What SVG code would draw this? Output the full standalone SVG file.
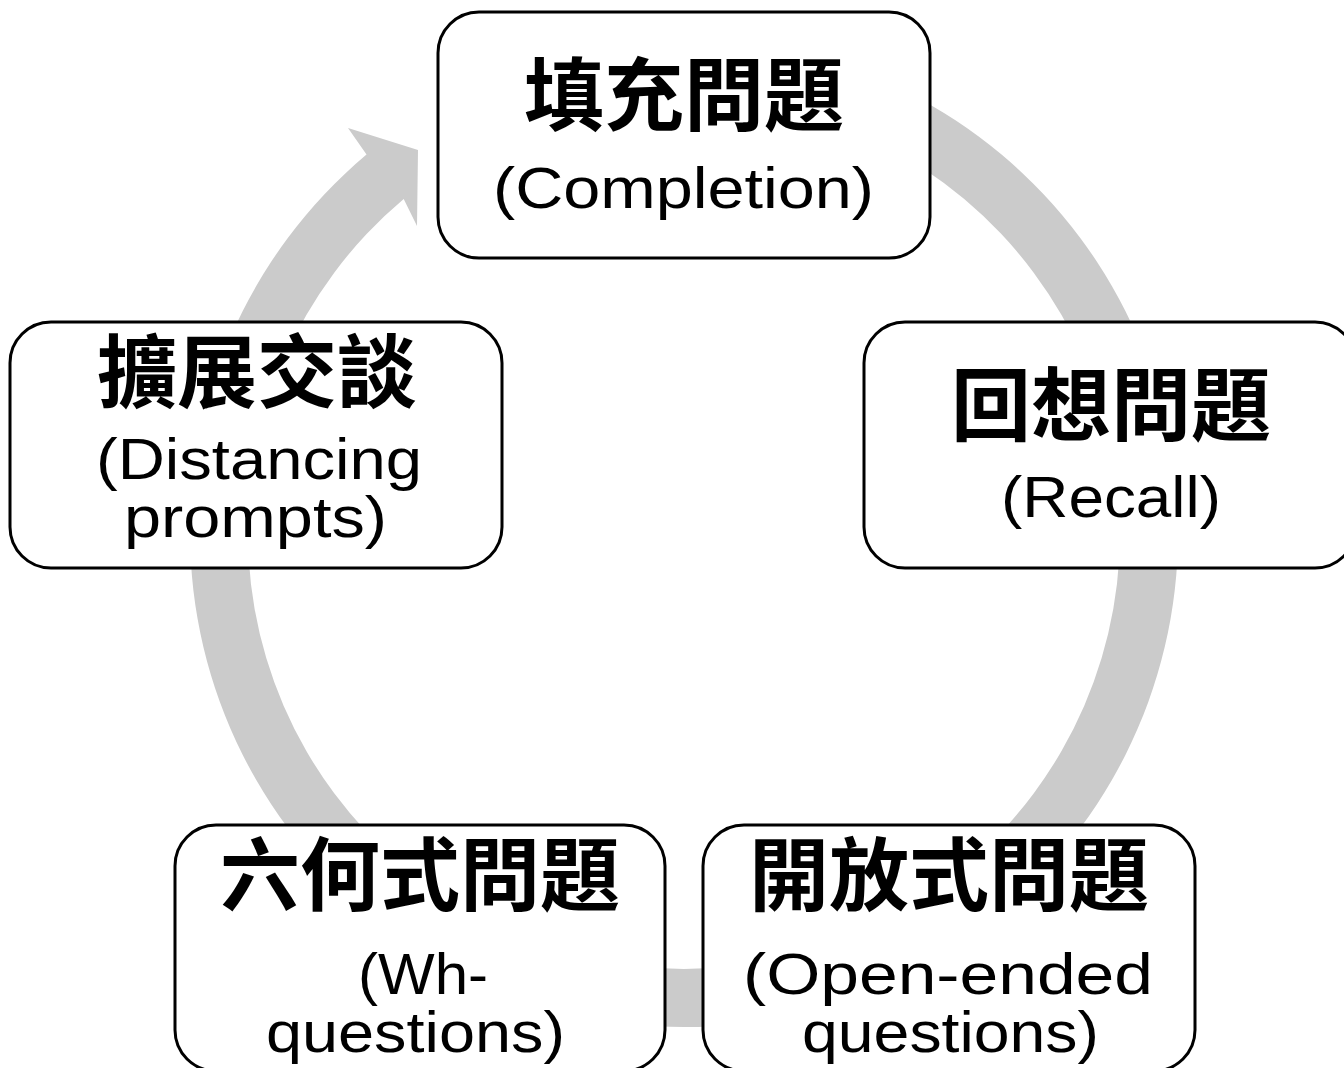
<svg xmlns="http://www.w3.org/2000/svg" width="1344" height="1068" viewBox="0 0 1344 1068">
<style>
.node rect{fill:#ffffff;stroke:#000000;stroke-width:3}
.zh{font-family:"Noto Sans CJK TC","Noto Sans CJK SC",sans-serif;font-weight:700;font-size:80px;fill:#000000;text-anchor:middle}
.en{font-family:"Liberation Sans","DejaVu Sans",sans-serif;font-size:57px;fill:#000000}
</style>
<rect width="1344" height="1068" fill="#ffffff"/>
<g id="connectors">
<path d="M684,39 A494,494 0 1 1 366.5,154.6 L348,128 L418,150 L417,226 L403.7,199 A436,436 0 1 0 684,97 Z" fill="#cbcbcb"/>
</g>
<g id="node-completion" class="node">
<rect x="438" y="12" width="492" height="246" rx="41"/>
<text class="zh" x="684" y="124">填充問題</text>
<text class="en" x="493" y="208" textLength="381" lengthAdjust="spacingAndGlyphs">(Completion)</text>
</g>
<g id="node-recall" class="node">
<rect x="864" y="322" width="492" height="246" rx="41"/>
<text class="zh" x="1111" y="434">回想問題</text>
<text class="en" x="1001" y="517" textLength="220" lengthAdjust="spacingAndGlyphs">(Recall)</text>
</g>
<g id="node-open-ended" class="node">
<rect x="703" y="825" width="492" height="246" rx="41"/>
<text class="zh" x="949" y="904">開放式問題</text>
<text class="en" x="743" y="994" textLength="410" lengthAdjust="spacingAndGlyphs">(Open-ended</text>
<text class="en" x="802" y="1052" textLength="297" lengthAdjust="spacingAndGlyphs">questions)</text>
</g>
<g id="node-wh" class="node">
<rect x="175" y="825" width="490" height="246" rx="41"/>
<text class="zh" x="420" y="904">六何式問題</text>
<text class="en" x="358" y="994" textLength="130" lengthAdjust="spacingAndGlyphs">(Wh-</text>
<text class="en" x="266" y="1052" textLength="299" lengthAdjust="spacingAndGlyphs">questions)</text>
</g>
<g id="node-distancing" class="node">
<rect x="10" y="322" width="492" height="246" rx="41"/>
<text class="zh" x="257" y="401">擴展交談</text>
<text class="en" x="96" y="479" textLength="326" lengthAdjust="spacingAndGlyphs">(Distancing</text>
<text class="en" x="124" y="537" textLength="263" lengthAdjust="spacingAndGlyphs">prompts)</text>
</g>
</svg>
